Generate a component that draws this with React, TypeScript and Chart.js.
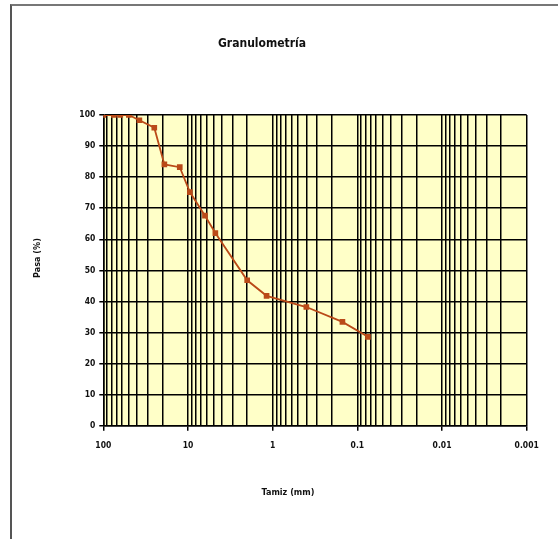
import React, { useEffect, useRef } from "react";
import { Chart, registerables } from "chart.js";

Chart.register(...registerables);

// Sieve sizes (mm) and percent passing
const sieveSizes = [100, 75, 63, 50, 37.5, 25, 19, 12.5, 9.5, 6.3, 4.75, 2.0, 1.18, 0.4, 0.15, 0.075];
const percentPassing = [100, 100, 100, 100, 98.3, 95.9, 84.1, 83.2, 75.2, 67.6, 62, 46.8, 41.8, 38.2, 33.4, 28.6];

const majorTicks = [100, 10, 1, 0.1, 0.01, 0.001];
const minorMultipliers = [2, 3, 4, 5, 6, 7, 8, 9];
const yTickStep = 10;

const chartTitle = "Granulometría";
const xTitle = "Tamiz (mm)";
const yTitle = "Pasa (%)";

const FONT = "'Liberation Sans Narrow', 'DejaVu Sans Condensed', 'Arial Narrow', sans-serif";

export default function App() {
  const ref = useRef<HTMLCanvasElement | null>(null);

  useEffect(() => {
    if (!ref.current) return;
    const allTicks: number[] = [];
    majorTicks.forEach((m) => {
      allTicks.push(m);
      if (m < 100) minorMultipliers.forEach((k) => allTicks.push(m * k));
    });

    const bgPlugin = {
      id: "plotBg",
      beforeDraw(chart: any) {
        const { ctx, chartArea } = chart;
        ctx.save();
        ctx.fillStyle = "#FFFFC8";
        ctx.fillRect(chartArea.left, chartArea.top, chartArea.right - chartArea.left, chartArea.bottom - chartArea.top);
        ctx.restore();
      },
    };

    const textPlugin = {
      id: "texts",
      afterDraw(chart: any) {
        const { ctx } = chart;
        ctx.save();
        ctx.fillStyle = "#111";
        ctx.textAlign = "center";
        ctx.textBaseline = "middle";
        ctx.font = `bold 12px ${FONT}`;
        ctx.fillText(chartTitle, 262, 44);
        ctx.font = `bold 9px ${FONT}`;
        ctx.fillText(xTitle, 288, 493);
        ctx.translate(38, 258);
        ctx.rotate(-Math.PI / 2);
        ctx.fillText(yTitle, 0, 0);
        ctx.restore();
      },
    };

    const chart = new Chart(ref.current, {
      type: "line",
      data: {
        datasets: [
          {
            data: sieveSizes.map((s, i) => ({ x: s, y: percentPassing[i] })),
            borderColor: "#BA4A18",
            backgroundColor: "#BA4A18",
            borderWidth: 1.8,
            pointStyle: "rect",
            pointRadius: 4,
            pointBorderWidth: 0,
            tension: 0,
          },
        ],
      },
      options: {
        animation: false,
        responsive: false,
        layout: { padding: { left: 0, right: 31.3, top: 115, bottom: 73.3 } },
        plugins: {
          legend: { display: false },
          title: { display: false },
          tooltip: { enabled: false },
        },
        scales: {
          x: {
            type: "logarithmic",
            reverse: true,
            min: 0.001,
            max: 100,
            afterBuildTicks: (scale: any) => {
              scale.ticks = allTicks.map((v) => ({ value: v }));
            },
            afterFit: (scale: any) => {
              scale.height = 40;
            },
            ticks: {
              autoSkip: false,
              maxRotation: 0,
              minRotation: 0,
              padding: 10,
              color: "#111",
              font: { family: FONT, size: 8.5, weight: "bold" },
              callback: (v: any) => (majorTicks.includes(Number(v)) ? String(v) : ""),
            },
            grid: {
              color: "#000",
              lineWidth: 1.5,
              tickLength: 5,
              tickColor: (ctx: any) =>
                ctx.tick && majorTicks.includes(ctx.tick.value) ? "#000" : "rgba(0,0,0,0)",
            },
            border: { color: "#000", width: 1.5 },
          },
          y: {
            type: "linear",
            min: 0,
            max: 100,
            afterFit: (scale: any) => {
              scale.width = 103.3;
            },
            ticks: {
              stepSize: yTickStep,
              padding: 4,
              color: "#111",
              font: { family: FONT, size: 8.5, weight: "bold" },
            },
            grid: {
              color: "#000",
              lineWidth: 1.5,
              tickLength: 4,
              tickColor: "#000",
            },
            border: { color: "#000", width: 1.5 },
          },
        },
      },
      plugins: [bgPlugin, textPlugin],
    });
    return () => chart.destroy();
  }, []);

  return (
    <div style={{ position: "absolute", left: 0, top: 0, width: 558, height: 539, background: "#fff" }}>
      <div
        style={{
          position: "absolute",
          left: 10,
          top: 4,
          width: 548,
          height: 535,
          borderTop: "2px solid #777",
          borderLeft: "2px solid #555",
          boxSizing: "border-box",
        }}
      />
      <canvas ref={ref} width={558} height={539} style={{ position: "absolute", left: 0, top: 0 }} />
    </div>
  );
}
